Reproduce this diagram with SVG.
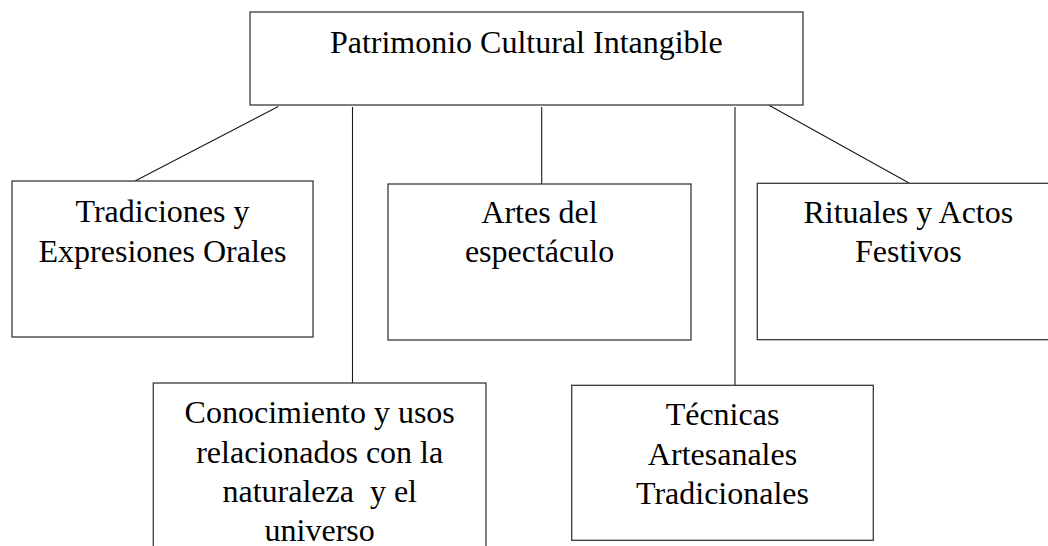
<svg xmlns="http://www.w3.org/2000/svg" width="1048" height="546" viewBox="0 0 1048 546">
<style>
  .box { fill: #ffffff; stroke: #3a3a3a; stroke-width: 1.3; }
  .lbl { font-family: "Liberation Serif", "Times New Roman", serif; font-size: 32px; fill: #000000; text-anchor: middle; white-space: pre; }
  .conn line { stroke: #1a1a1a; stroke-width: 1.1; }
</style>
<rect width="1048" height="546" fill="#ffffff"/>
<g id="connectors" class="conn">
  <line x1="278.3" y1="106.5" x2="135" y2="181"/>
  <line x1="352.5" y1="107" x2="352.5" y2="383"/>
  <line x1="541.7" y1="107" x2="541.7" y2="184"/>
  <line x1="735" y1="107" x2="735" y2="385.5"/>
  <line x1="769" y1="105.3" x2="909" y2="183"/>
</g>
<g id="root">
  <rect class="box" x="250" y="12" width="553" height="93"/>
  <text class="lbl" x="526.3" y="52.5">Patrimonio Cultural Intangible</text>
</g>
<g id="tradiciones">
  <rect class="box" x="12" y="181" width="301" height="156"/>
  <text class="lbl" x="162.5" y="221.7">Tradiciones y</text>
  <text class="lbl" x="162.5" y="261.7">Expresiones Orales</text>
</g>
<g id="artes">
  <rect class="box" x="388" y="184" width="303" height="156"/>
  <text class="lbl" x="539.5" y="222.7">Artes del</text>
  <text class="lbl" x="539.5" y="261.7">espectáculo</text>
</g>
<g id="rituales">
  <rect class="box" x="757.3" y="183.3" width="303" height="156.4"/>
  <text class="lbl" x="908.3" y="222.7">Rituales y Actos</text>
  <text class="lbl" x="908.3" y="261.7">Festivos</text>
</g>
<g id="conocimiento">
  <rect class="box" x="153.3" y="383" width="332.7" height="180"/>
  <text class="lbl" x="319.7" y="423">Conocimiento y usos</text>
  <text class="lbl" x="319.7" y="462.7">relacionados con la</text>
  <text class="lbl" x="319.7" y="502">naturaleza  y el</text>
  <text class="lbl" x="319.7" y="541.3">universo</text>
</g>
<g id="tecnicas">
  <rect class="box" x="571.7" y="385.3" width="301.6" height="155"/>
  <text class="lbl" x="722.5" y="425.3">Técnicas</text>
  <text class="lbl" x="722.5" y="464.7">Artesanales</text>
  <text class="lbl" x="722.5" y="503.7">Tradicionales</text>
</g>
</svg>
